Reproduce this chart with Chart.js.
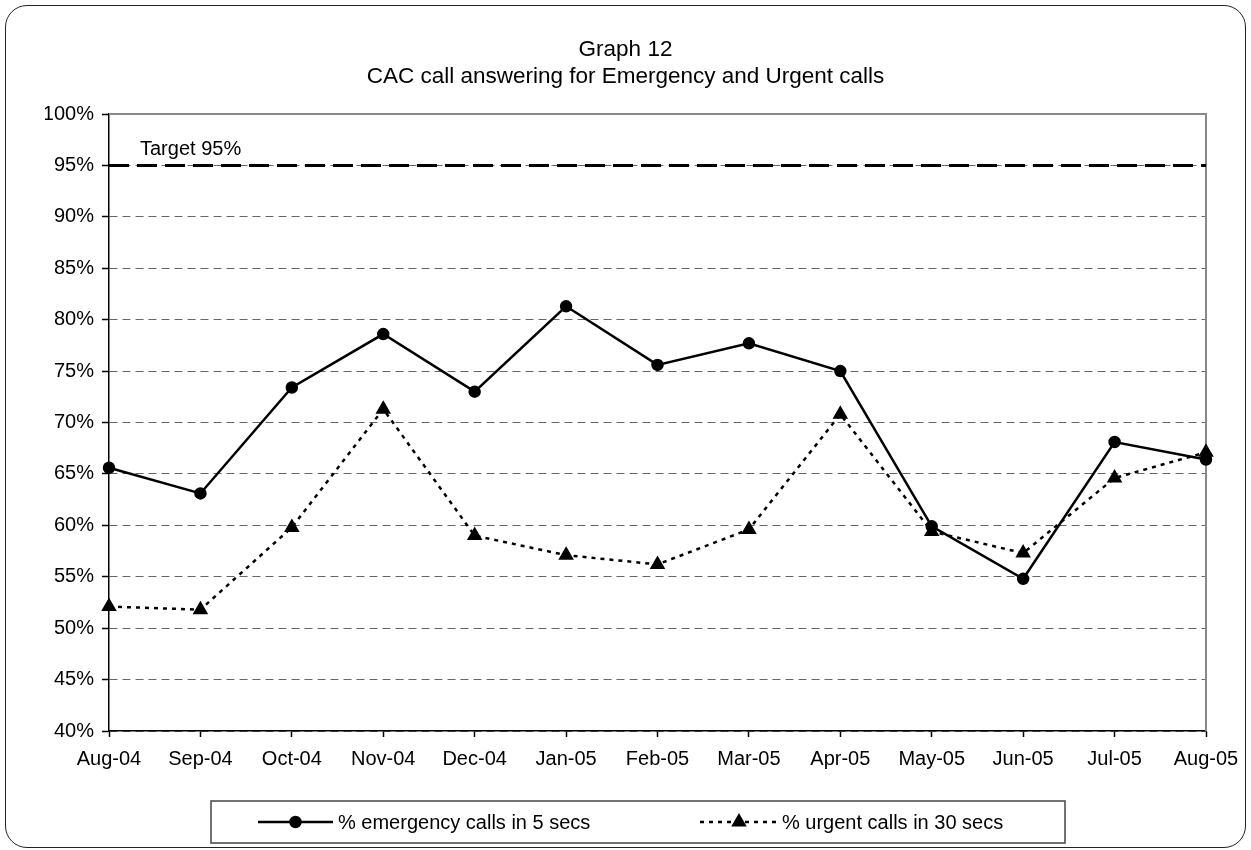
<!DOCTYPE html>
<html>
<head>
<meta charset="utf-8">
<script src="https://cdn.jsdelivr.net/npm/chart.js@4.4.1/dist/chart.umd.min.js"></script>
<style>
  body { margin: 0; background: #fff; }
  #wrap { position: relative; width: 1251px; height: 850px; }
  #frame {
    position: absolute; left: 5px; top: 5px; width: 1241px; height: 843px;
    box-sizing: border-box; border: 1.5px solid #222; border-radius: 22px;
  }
  #myChart { position: absolute; left: 0; top: 0; }
</style>
</head>
<body>
<div id="wrap">
  <div id="frame"></div>
  <canvas id="myChart" width="1251" height="850"></canvas>
</div>
<script>
const months = ['Aug-04', 'Sep-04', 'Oct-04', 'Nov-04', 'Dec-04', 'Jan-05', 'Feb-05',
  'Mar-05', 'Apr-05', 'May-05', 'Jun-05', 'Jul-05', 'Aug-05']
const emergencyPct = [65.6, 63.1, 73.4, 78.6, 73.0, 81.3, 75.6, 77.7, 75.0, 59.9, 54.8, 68.1, 66.4]
const urgentPct = [52.1, 51.8, 59.8, 71.3, 59.0, 57.1, 56.2, 59.6, 70.8, 59.4, 57.3, 64.6, 67.1]
const targetPct = 95
const yMin = 40
const yMax = 100
const yStep = 5

const FONT = "'Liberation Sans', Arial, sans-serif"

// frame, target label and the legend box
const decor = {
  id: 'decor',
  beforeDatasetsDraw(chart) {
    const { ctx, chartArea } = chart
    ctx.save()
    ctx.strokeStyle = '#888'
    ctx.lineWidth = 2
    ctx.beginPath()
    ctx.moveTo(chartArea.left, chartArea.top)
    ctx.lineTo(chartArea.right, chartArea.top)
    ctx.lineTo(chartArea.right, chartArea.bottom)
    ctx.stroke()
    ctx.restore()
  },
  afterDraw(chart) {
    const { ctx, chartArea, scales } = chart
    ctx.save()
    ctx.fillStyle = '#000'
    ctx.font = '20px ' + FONT
    ctx.textBaseline = 'middle'
    ctx.fillText('Target ' + targetPct + '%', chartArea.left + 31, scales.y.getPixelForValue(targetPct) - 16)

    // legend
    const bx = 211, by = 801, bw = 854, bh = 42
    ctx.strokeStyle = '#444'
    ctx.lineWidth = 1.5
    ctx.strokeRect(bx, by, bw, bh)
    const cy = by + bh / 2
    const items = [
      { ds: chart.data.datasets[0], x0: 258, x1: 333, tx: 338 },
      { ds: chart.data.datasets[1], x0: 700, x1: 778, tx: 782 }
    ]
    items.forEach(it => {
      const ds = it.ds
      ctx.save()
      ctx.strokeStyle = ds.borderColor
      ctx.lineWidth = ds.borderWidth
      ctx.setLineDash(ds.borderDash || [])
      ctx.beginPath()
      ctx.moveTo(it.x0, cy)
      ctx.lineTo(it.x1, cy)
      ctx.stroke()
      ctx.setLineDash([])
      ctx.fillStyle = ds.pointBackgroundColor
      Chart.helpers.drawPoint(ctx, { pointStyle: ds.pointStyle, radius: ds.pointRadius, rotation: 0, borderWidth: 1 },
        (it.x0 + it.x1) / 2, cy)
      ctx.restore()
      ctx.fillStyle = '#000'
      ctx.fillText(ds.label, it.tx, cy + 1)
    })
    ctx.restore()
  }
}

const ctx = document.getElementById('myChart')

const data = {
  labels: months,
  datasets: [{
    label: '% emergency calls in 5 secs',
    data: emergencyPct,
    borderColor: '#000',
    borderWidth: 2.5,
    pointStyle: 'circle',
    pointRadius: 5,
    pointBackgroundColor: '#000',
    pointBorderColor: '#000',
    tension: 0
  }, {
    label: '% urgent calls in 30 secs',
    data: urgentPct,
    borderColor: '#000',
    borderWidth: 2.5,
    borderDash: [4, 5],
    pointStyle: 'triangle',
    pointRadius: 6.5,
    pointBackgroundColor: '#000',
    pointBorderColor: '#000',
    tension: 0
  }, {
    label: 'Target',
    data: months.map(() => targetPct),
    borderColor: '#000',
    borderWidth: 3,
    borderDash: [20, 8],
    pointRadius: 0,
    order: 5
  }]
}

const config = {
  type: 'line',
  data: data,
  options: {
    responsive: false,
    animation: false,
    layout: { padding: { left: 45, right: 45, top: 0, bottom: 0 } },
    plugins: {
      legend: { display: false },
      tooltip: { enabled: false },
      title: {
        display: true,
        text: ['Graph 12', 'CAC call answering for Emergency and Urgent calls'],
        color: '#000',
        font: { family: FONT, size: 22.5, weight: 'normal', lineHeight: 1.2 },
        padding: { top: 36, bottom: 24 }
      }
    },
    scales: {
      x: {
        offset: false,
        grid: { drawOnChartArea: false, tickLength: 6, tickColor: '#000', tickWidth: 1.5 },
        border: { color: '#000', width: 1.5 },
        ticks: { color: '#000', font: { family: FONT, size: 20 }, padding: 10, maxRotation: 0, autoSkip: false },
        afterFit: s => { s.height = 119 }
      },
      y: {
        min: yMin,
        max: yMax,
        grid: { color: '#666', lineWidth: 1, tickLength: 7, tickColor: '#000', tickWidth: 1.5, tickBorderDash: [] },
        border: { color: '#000', width: 1.5, dash: [8, 5] },
        ticks: { stepSize: yStep, color: '#000', font: { family: FONT, size: 20 }, padding: 8, callback: v => v + '%' },
        afterFit: s => { s.width = 64 }
      }
    }
  },
  plugins: [decor]
}

const myChart = new Chart(ctx, config)
</script>
</body>
</html>
